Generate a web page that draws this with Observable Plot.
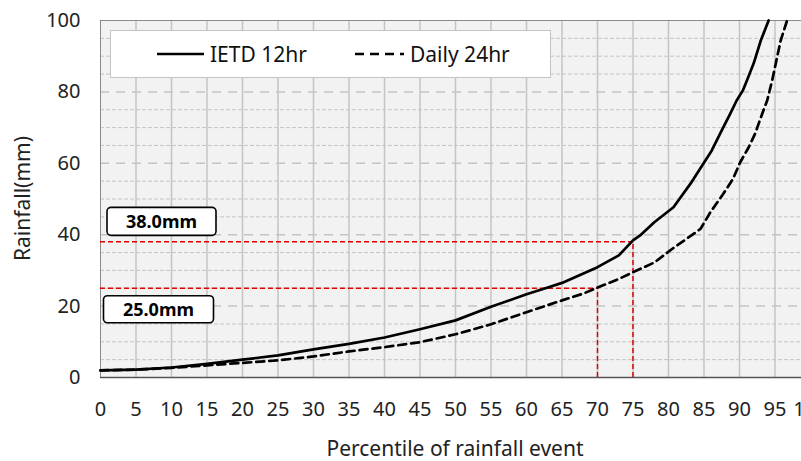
<!DOCTYPE html>
<html><head><meta charset="utf-8">
<script src="https://cdn.jsdelivr.net/npm/d3@7"></script>
<script src="https://cdn.jsdelivr.net/npm/@observablehq/plot@0.6"></script>
<style>body{margin:0;background:#fff;} #chart svg{overflow:hidden;display:block;}</style>
</head><body><div id="chart"></div>
<script>
// ---- data ----
const seriesNames = ["IETD 12hr", "Daily 24hr"];
const ietdPct = [0, 5, 10, 15, 20, 25, 30, 35, 40, 45, 50, 55, 60, 63, 65, 70, 73, 75, 76, 78, 80.7, 83.1, 84.9, 86.1, 87.5, 88.7, 89.6, 90.5, 91.1, 92.0, 93.0, 94.1];
const ietdMm  = [2.0, 2.2, 2.8, 3.8, 5.0, 6.2, 7.9, 9.4, 11.2, 13.5, 16.0, 19.8, 23.3, 25.2, 26.5, 30.9, 34.2, 38.4, 39.8, 43.5, 47.7, 54.3, 59.9, 63.6, 69.2, 73.9, 77.6, 80.5, 83.5, 88.0, 94.4, 100];
const dailyPct = [0, 5, 10, 15, 20, 25, 30, 35, 40, 45, 50, 55, 60, 65, 68, 70, 73, 75, 78, 80.5, 82.5, 84.5, 85.9, 87.7, 89.1, 90.1, 91.3, 92.2, 93.2, 93.9, 94.6, 95.1, 95.8, 96.7];
const dailyMm  = [2.0, 2.2, 2.7, 3.4, 4.1, 4.8, 5.9, 7.3, 8.5, 9.9, 12.1, 14.9, 18.3, 21.6, 23.5, 25.2, 27.6, 29.5, 32.2, 36.0, 38.8, 41.6, 46.3, 51.4, 55.7, 60.3, 64.5, 68.3, 73.9, 77.6, 83.2, 87.9, 94.4, 100];
const refMm  = [38, 25];
const refPct = [75, 70];
const xTicks = [0, 5, 10, 15, 20, 25, 30, 35, 40, 45, 50, 55, 60, 65, 70, 75, 80, 85, 90, 95, 100];
const yTicks = [0, 20, 40, 60, 80, 100];
const yMinor = [5, 10, 15, 25, 30, 35, 45, 50, 55, 65, 70, 75, 85, 90, 95];
const xGrid = [5, 10, 15, 20, 25, 30, 35, 40, 45, 50, 55, 60, 65, 70, 75, 80, 85, 90, 95];
const xDomain = [0, 100];
const yDomain = [0, 100];
const xLabel = "Percentile of rainfall event";
const yLabel = "Rainfall(mm)";

const ietd = ietdPct.map((p, i) => ({p, mm: ietdMm[i]}));
const daily = dailyPct.map((p, i) => ({p, mm: dailyMm[i]}));
const refs = refMm.map((mm, i) => ({mm, p: refPct[i]}));

const FONT = "'Noto Sans', 'Open Sans', sans-serif";
const grid = "#c4c4c4";

const plot = Plot.plot({
  width: 801,
  height: 461,
  marginTop: 20,
  marginBottom: 84,
  marginLeft: 100,
  marginRight: 0,
  style: {fontFamily: FONT, fontSize: "20px", color: "#222", background: "#fff", overflow: "hidden"},
  x: {domain: xDomain, range: [100, 810]},
  y: {domain: yDomain},
  marks: [
    Plot.frame({fill: "#f2f2f2", stroke: "none"}),
    Plot.ruleX(xGrid, {stroke: grid, strokeWidth: 1.5}),
    Plot.ruleY(yMinor, {stroke: grid, strokeWidth: 1, strokeDasharray: "4,2"}),
    Plot.ruleY(yTicks.filter(v => v > yDomain[0] && v < yDomain[1]), {stroke: grid, strokeWidth: 1.5, strokeDasharray: "9,7"}),
    Plot.ruleY([yDomain[1]], {stroke: "#8a8a8a", strokeWidth: 1}),
    Plot.ruleX([xDomain[0]], {stroke: "#8a8a8a", strokeWidth: 1}),
    Plot.ruleY([yDomain[0]], {stroke: "#555", strokeWidth: 1.5}),
    Plot.ruleY(refs, {y: "mm", x1: xDomain[0], x2: "p", stroke: "#e00000", strokeWidth: 1.5, strokeDasharray: "5,3"}),
    Plot.ruleX(refs, {x: "p", y1: yDomain[0], y2: "mm", stroke: "#e00000", strokeWidth: 1.5, strokeDasharray: "5,3"}),
    Plot.line(daily, {x: "p", y: "mm", stroke: "#000", strokeWidth: 2.7, strokeDasharray: "8,5"}),
    Plot.line(ietd, {x: "p", y: "mm", stroke: "#000", strokeWidth: 2.7}),
    Plot.axisX({ticks: xTicks, tickSize: 0, tickPadding: 24, fontSize: 20, label: null, tickFormat: d => String(d)}),
    Plot.axisY({ticks: yTicks, tickSize: 0, tickPadding: 20, fontSize: 20, label: null, tickFormat: d => String(d)})
  ]
});

document.getElementById("chart").appendChild(plot);

// ---- overlays: legend, reference labels, axis titles ----
const svg = d3.select(plot);
const xs = plot.scale("x"), ys = plot.scale("y");

// legend box
const lg = svg.append("g").attr("font-family", FONT).attr("text-anchor", "start");
lg.append("rect").attr("x", 110.5).attr("y", 30.5).attr("width", 440).attr("height", 47)
  .attr("fill", "#fff").attr("stroke", "#c4c4c4").attr("stroke-width", 1);
lg.append("line").attr("x1", 157).attr("x2", 204).attr("y1", 54).attr("y2", 54)
  .attr("stroke", "#000").attr("stroke-width", 2.6);
lg.append("text").attr("x", 210).attr("y", 62).attr("font-size", 21).attr("fill", "#111").text(seriesNames[0]);
lg.append("line").attr("x1", 355).attr("x2", 404).attr("y1", 54).attr("y2", 54)
  .attr("stroke", "#000").attr("stroke-width", 2.6).attr("stroke-dasharray", "9,6");
lg.append("text").attr("x", 410).attr("y", 62).attr("font-size", 21).attr("fill", "#111").text(seriesNames[1]);

// reference value labels
const boxes = [
  {x: 107, y: ys.apply(refMm[0]) - 34, w: 109, h: 28},
  {x: 103.5, y: ys.apply(refMm[1]) + 8, w: 110, h: 27}
];
refMm.forEach((mm, i) => {
  const b = boxes[i];
  svg.append("rect").attr("x", b.x).attr("y", b.y).attr("width", b.w).attr("height", b.h)
    .attr("rx", 4).attr("fill", "#fff").attr("stroke", "#000").attr("stroke-width", 1.6);
  svg.append("text").attr("x", b.x + b.w / 2).attr("y", b.y + b.h / 2)
    .attr("dy", "0.36em").attr("text-anchor", "middle").attr("font-family", FONT)
    .attr("font-weight", "bold").attr("font-size", 18).attr("fill", "#000")
    .text(mm.toFixed(1) + "mm");
});

// axis titles
svg.append("text").attr("transform", "translate(22," + ((ys.apply(yDomain[0]) + ys.apply(yDomain[1])) / 2) + ") rotate(-90)")
  .attr("text-anchor", "middle").attr("dy", "0.36em").attr("font-family", FONT).attr("font-size", 21).attr("fill", "#222").text(yLabel);
svg.append("text").attr("x", 455).attr("y", 456)
  .attr("text-anchor", "middle").attr("font-family", FONT).attr("font-size", 21).attr("fill", "#222").text(xLabel);
</script></body></html>
